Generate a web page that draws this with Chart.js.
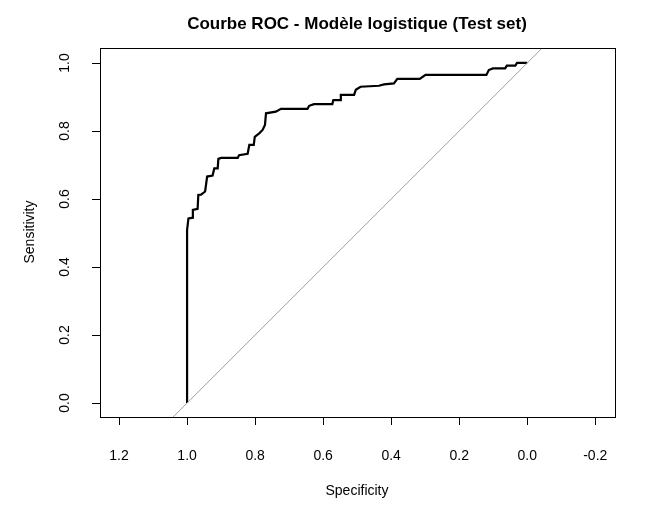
<!DOCTYPE html>
<html lang="fr">
<head>
<meta charset="UTF-8">
<title>Courbe ROC</title>
<style>
  body { margin: 0; background: #fff; }
  #wrap { width: 666px; height: 516px; }
</style>
<script src="https://cdn.jsdelivr.net/npm/chart.js"></script>
</head>
<body>
<div id="wrap"><canvas id="roc" width="666" height="516"></canvas></div>
<script>
// valeurs (spécificité, sensibilité)
const specificity = [1.000, 1.000, 0.996, 0.983, 0.983, 0.969, 0.967, 0.959, 0.947, 0.941,
  0.925, 0.920, 0.910, 0.908, 0.900, 0.851, 0.847, 0.822, 0.817, 0.804, 0.801, 0.788,
  0.778, 0.771, 0.768, 0.739, 0.724, 0.646, 0.641, 0.627, 0.573, 0.570, 0.550, 0.548,
  0.509, 0.504, 0.490, 0.436, 0.421, 0.392, 0.382, 0.316, 0.299, 0.120, 0.113, 0.101,
  0.065, 0.060, 0.035, 0.030, 0.000];
const sensitivity = [0.000, 0.509, 0.543, 0.545, 0.568, 0.571, 0.612, 0.613, 0.622, 0.666,
  0.669, 0.690, 0.690, 0.718, 0.721, 0.721, 0.729, 0.733, 0.759, 0.759, 0.783, 0.793,
  0.803, 0.818, 0.852, 0.857, 0.865, 0.865, 0.874, 0.879, 0.879, 0.891, 0.891, 0.906,
  0.906, 0.921, 0.930, 0.933, 0.937, 0.940, 0.953, 0.953, 0.965, 0.965, 0.979, 0.984,
  0.984, 0.992, 0.992, 1.000, 1.000];
const xTicks = [1.2, 1.0, 0.8, 0.6, 0.4, 0.2, 0.0, -0.2];
const yTicks = [0.0, 0.2, 0.4, 0.6, 0.8, 1.0];
const diagonal = [[1.3, -0.3], [-0.3, 1.3]];

const font = '"Liberation Sans", Arial, sans-serif';

const rAxes = {
  id: 'rAxes',
  afterDraw(chart) {
    const ctx = chart.ctx, a = chart.chartArea;
    const xs = chart.scales.x, ys = chart.scales.y;
    ctx.save();
    ctx.strokeStyle = '#000';
    ctx.lineWidth = 1;
    ctx.strokeRect(a.left + 0.5, a.top + 0.5, a.right - a.left, a.bottom - a.top);
    ctx.fillStyle = '#000';
    ctx.font = '14px ' + font;
    // graduations x
    ctx.beginPath();
    xTicks.forEach(v => {
      const p = Math.round(xs.getPixelForValue(v)) + 0.5;
      ctx.moveTo(p, a.bottom); ctx.lineTo(p, a.bottom + 8);
    });
    // graduations y
    yTicks.forEach(v => {
      const p = Math.round(ys.getPixelForValue(v)) + 0.5;
      ctx.moveTo(a.left, p); ctx.lineTo(a.left - 8, p);
    });
    ctx.stroke();
    ctx.textAlign = 'center'; ctx.textBaseline = 'middle';
    xTicks.forEach(v => ctx.fillText(v.toFixed(1), xs.getPixelForValue(v), 456));
    yTicks.forEach(v => {
      ctx.save();
      ctx.translate(65, ys.getPixelForValue(v));
      ctx.rotate(-Math.PI / 2);
      ctx.fillText(v.toFixed(1), 0, 0);
      ctx.restore();
    });
    // titres
    ctx.fillText('Specificity', 357, 491);
    ctx.save();
    ctx.translate(30, 232);
    ctx.rotate(-Math.PI / 2);
    ctx.fillText('Sensitivity', 0, 0);
    ctx.restore();
    ctx.font = 'bold 17px ' + font;
    ctx.fillText('Courbe ROC - Modèle logistique (Test set)', 357, 24);
    ctx.restore();
  }
};

new Chart(document.getElementById('roc'), {
  type: 'scatter',
  data: {
    datasets: [
      {
        data: diagonal.map(d => ({ x: d[0], y: d[1] })),
        showLine: true, borderColor: '#a0a0a0', borderWidth: 1, pointRadius: 0
      },
      {
        data: specificity.map((s, i) => ({ x: s, y: sensitivity[i] })),
        showLine: true, borderColor: '#000', borderWidth: 2.2, pointRadius: 0
      }
    ]
  },
  options: {
    responsive: false,
    animation: false,
    layout: { padding: { left: 100, right: 51, top: 48, bottom: 99 } },
    scales: {
      x: { type: 'linear', reverse: true, min: -0.258, max: 1.256, display: false },
      y: { type: 'linear', min: -0.041, max: 1.044, display: false }
    },
    plugins: { legend: { display: false }, tooltip: { enabled: false } }
  },
  plugins: [rAxes]
});
</script>
</body>
</html>
